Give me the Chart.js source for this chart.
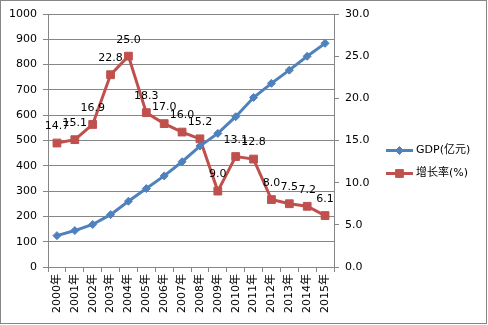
<!DOCTYPE html>
<html lang="zh">
<head>
<meta charset="UTF-8">
<title>GDP与增长率</title>
<style>
    body { margin: 0; background: #fff; }
    .wrap { position: relative; width: 488px; height: 325px; }
    .frame {
        position: absolute; left: 0; top: 0; width: 487px; height: 324px;
        box-sizing: border-box; border: 1px solid #868686; pointer-events: none;
    }
</style>
</head>
<body>
<div class="wrap">
    <canvas id="gdp" width="488" height="325"></canvas>
    <div class="frame"></div>
</div>
<script src="https://cdn.jsdelivr.net/npm/chart.js"></script>
<script>
    const years = ['2000年', '2001年', '2002年', '2003年', '2004年', '2005年', '2006年', '2007年',
        '2008年', '2009年', '2010年', '2011年', '2012年', '2013年', '2014年', '2015年'];
    const gdp = [124, 144, 168, 207, 260, 310, 360, 416, 478, 528, 594, 670, 726, 778, 833, 884];
    const growth = [14.7, 15.1, 16.9, 22.8, 25.0, 18.3, 17.0, 16.0, 15.2, 9.0, 13.1, 12.8, 8.0, 7.5, 7.2, 6.1];

    const BLUE = '#4F81BD';
    const RED = '#C0504D';
    const GRID = '#868686';
    const FONT = "'DejaVu Sans', 'Noto Sans CJK SC', sans-serif";

    // 增长率数值标签
    const valueLabels = {
        id: 'valueLabels',
        afterDatasetsDraw(chart) {
            const ctx = chart.ctx;
            const meta = chart.getDatasetMeta(1);
            ctx.save();
            ctx.font = '11px ' + FONT;
            ctx.fillStyle = '#000';
            ctx.textAlign = 'center';
            ctx.textBaseline = 'bottom';
            meta.data.forEach((pt, i) => {
                ctx.fillText(growth[i].toFixed(1), pt.x, pt.y - 11);
            });
            ctx.restore();
        }
    };

    // 右侧图例：线段 + 标记 + 文字
    const sideLegend = {
        id: 'sideLegend',
        afterDraw(chart) {
            const ctx = chart.ctx;
            const x0 = chart.scales.y1.left + 52;
            const yMid = (chart.chartArea.top + chart.chartArea.bottom) / 2;
            const items = [
                { text: 'GDP(亿元)', color: BLUE, style: 'rectRot', r: 4 },
                { text: '增长率(%)', color: RED, style: 'rect', r: 5.5 }
            ];
            ctx.save();
            ctx.font = '11px ' + FONT;
            ctx.textBaseline = 'middle';
            items.forEach((it, i) => {
                const y = yMid + 10 + i * 23;
                ctx.strokeStyle = it.color;
                ctx.lineWidth = 3;
                ctx.beginPath();
                ctx.moveTo(x0, y);
                ctx.lineTo(x0 + 27, y);
                ctx.stroke();
                ctx.fillStyle = it.color;
                ctx.lineWidth = 1;
                Chart.helpers.drawPoint(ctx, { pointStyle: it.style, radius: it.r, borderWidth: 1 }, x0 + 13.5, y);
                ctx.fillStyle = '#000';
                ctx.fillText(it.text, x0 + 30, y);
            });
            ctx.restore();
        }
    };

    new Chart(document.getElementById('gdp'), {
        type: 'line',
        data: {
            labels: years,
            datasets: [
                {
                    label: 'GDP(亿元)',
                    data: gdp,
                    yAxisID: 'y',
                    borderColor: BLUE,
                    backgroundColor: BLUE,
                    borderWidth: 3,
                    pointStyle: 'rectRot',
                    pointRadius: 4,
                    pointBorderWidth: 1,
                    tension: 0
                },
                {
                    label: '增长率(%)',
                    data: growth,
                    yAxisID: 'y1',
                    borderColor: RED,
                    backgroundColor: RED,
                    borderWidth: 3,
                    pointStyle: 'rect',
                    pointRadius: 5.5,
                    pointBorderWidth: 1,
                    tension: 0
                }
            ]
        },
        options: {
            responsive: false,
            animation: false,
            devicePixelRatio: 1,
            layout: { padding: { top: 14, left: 0, right: 0, bottom: 0 } },
            plugins: {
                legend: { display: false },
                tooltip: { enabled: false }
            },
            scales: {
                x: {
                    offset: true,
                    grid: { offset: true, drawOnChartArea: false, color: GRID, tickLength: 5 },
                    border: { color: GRID },
                    ticks: {
                        color: '#000',
                        font: { family: FONT, size: 11 },
                        minRotation: 90,
                        maxRotation: 90,
                        autoSkip: false,
                        padding: 2
                    },
                    afterFit(scale) { scale.height = 58; }
                },
                y: {
                    position: 'left',
                    min: 0,
                    max: 1000,
                    grid: { color: GRID, tickLength: 5 },
                    border: { color: GRID },
                    ticks: {
                        stepSize: 100,
                        color: '#000',
                        font: { family: FONT, size: 11 },
                        padding: 6,
                        callback: v => String(v)
                    },
                    afterFit(scale) { scale.width = 48; }
                },
                y1: {
                    position: 'right',
                    min: 0,
                    max: 30,
                    grid: { drawOnChartArea: false, color: GRID, tickLength: 5 },
                    border: { color: GRID },
                    ticks: {
                        stepSize: 5,
                        color: '#000',
                        font: { family: FONT, size: 11 },
                        padding: 6,
                        callback: v => v.toFixed(1)
                    },
                    afterFit(scale) { scale.width = 154; }
                }
            }
        },
        plugins: [valueLabels, sideLegend]
    });
</script>
</body>
</html>
